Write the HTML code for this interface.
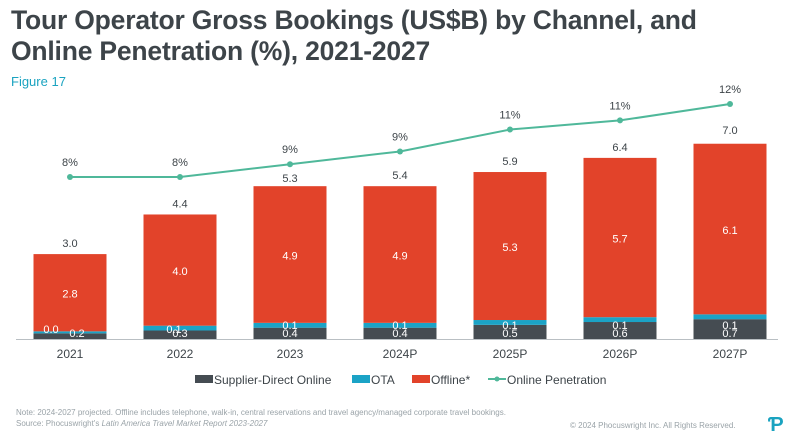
<!DOCTYPE html>
<html><head><meta charset="utf-8"><style>
body{margin:0;width:788px;height:438px;background:#fff;font-family:"Liberation Sans",sans-serif;overflow:hidden;position:relative}
.t{position:absolute;left:11px;top:5px;font-size:26.5px;font-weight:bold;color:#3d4449;line-height:31px;letter-spacing:-0.2px}
.f{position:absolute;left:11px;top:74px;font-size:13px;color:#1aa3c0}
.n{position:absolute;left:16px;font-size:8px;color:#9aa3a8}
svg{position:absolute;left:0;top:0}
</style></head><body>
<div class="t">Tour Operator Gross Bookings (US$B) by Channel, and<br>Online Penetration (%), 2021-2027</div>
<div class="f">Figure 17</div>
<div class="n" style="top:408px">Note: 2024-2027 projected. Offline includes telephone, walk-in, central reservations and travel agency/managed corporate travel bookings.</div>
<div class="n" style="top:419px">Source: Phocuswright's <i>Latin America Travel Market Report 2023-2027</i></div>
<div class="n" style="top:421px;left:570px">© 2024 Phocuswright Inc. All Rights Reserved.</div>
<div style="position:absolute;left:768px;top:414px;color:#1aa3c0;font-size:20px;font-weight:bold">Ƥ</div>
<svg id="c" width="788" height="438"></svg>
<script>
const categories=["2021","2022","2023","2024P","2025P","2026P","2027P"];
const supplier=[0.2,0.3,0.4,0.4,0.5,0.6,0.7];
const ota=[0.0,0.1,0.1,0.1,0.1,0.1,0.1];
const offline=[2.8,4.0,4.9,4.9,5.3,5.7,6.1];
const totals=[3.0,4.4,5.3,5.4,5.9,6.4,7.0];
const penetration=[8.0,8.0,8.7,9.4,10.6,11.1,12.0];
const penLabels=["8%","8%","9%","9%","11%","11%","12%"];
const S=document.getElementById('c'),NS="http://www.w3.org/2000/svg";
function mk(t,a,txt){const e=document.createElementNS(NS,t);for(const k in a)e.setAttribute(k,a[k]);if(txt!=null)e.textContent=txt;S.appendChild(e);return e;}
const base=339,ppu=28.3,bw=73;
const xc=i=>70+i*110;
const yv=v=>base-v*ppu;
const yp=p=>104+(12-p)*18.25;
const tx={"font-size":"11px","text-anchor":"middle","font-family":"Liberation Sans, sans-serif"};
mk('line',{x1:16,x2:778,y1:base+0.5,y2:base+0.5,stroke:"#b9bfc3","stroke-width":1});
categories.forEach((c,i)=>{
  const x=xc(i)-bw/2;
  let r=mk('rect',{x,y:yv(supplier[i]),width:bw,height:supplier[i]*ppu,fill:"#454c52"});
  
  const o0=supplier[i],o1=o0+ota[i];
  r=mk('rect',{x,y:yv(o1)-2,width:bw,height:ota[i]*ppu+2,fill:"#1ba3c6"});
  
  const f1=o1+offline[i];
  r=mk('rect',{x,y:yv(f1),width:bw,height:offline[i]*ppu-2,fill:"#e2432a"});
  
  let t=mk('text',Object.assign({x:xc(i),y:yv(totals[i])-7,fill:"#3d4449"},tx),totals[i].toFixed(1));
  
  t=mk('text',Object.assign({x:xc(i),y:yv(o1+offline[i]/2)+4,fill:"#fff"},tx),offline[i].toFixed(1));
  
  const sx=i==0?xc(i)+7:xc(i);
  t=mk('text',Object.assign({x:sx,y:base-2,fill:"#fff"},tx),supplier[i].toFixed(1));
  
  const ox=i==0?xc(i)-19:(i==1?xc(i)-6:xc(i));
  t=mk('text',Object.assign({x:ox,y:base-(i<2?6:10),fill:"#fff"},tx),ota[i].toFixed(1));
  
  t=mk('text',Object.assign({x:xc(i),y:358,fill:"#3d4449"},tx,{"font-size":"12px"}),c);
  
});
const pl=mk('polyline',{points:penetration.map((p,i)=>xc(i)+","+yp(p)).join(" "),fill:"none",stroke:"#4fb89a","stroke-width":2});

penetration.forEach((p,i)=>{
  const d=mk('circle',{cx:xc(i),cy:yp(p),r:3,fill:"#4fb89a"});
  
  const t=mk('text',Object.assign({x:xc(i),y:yp(p)-11,fill:"#3d4449"},tx),penLabels[i]);
  
});
const leg=[["Supplier-Direct Online","#454c52",195],["OTA","#1ba3c6",352],["Offline*","#e2432a",412],["Online Penetration","#4fb89a",488]];
leg.forEach(([n,c,x],i)=>{
  let m;
  if(i<3)m=mk('rect',{x,y:375,width:18,height:8,fill:c});
  else{m=mk('line',{x1:x,x2:x+18,y1:379,y2:379,stroke:c,"stroke-width":2});mk('circle',{cx:x+9,cy:379,r:2.5,fill:c});}
  
  const t=mk('text',{x:x+19,y:384,"font-size":"12px",fill:"#3d4449","font-family":"Liberation Sans, sans-serif"},n);
  
});
</script>
</body></html>
